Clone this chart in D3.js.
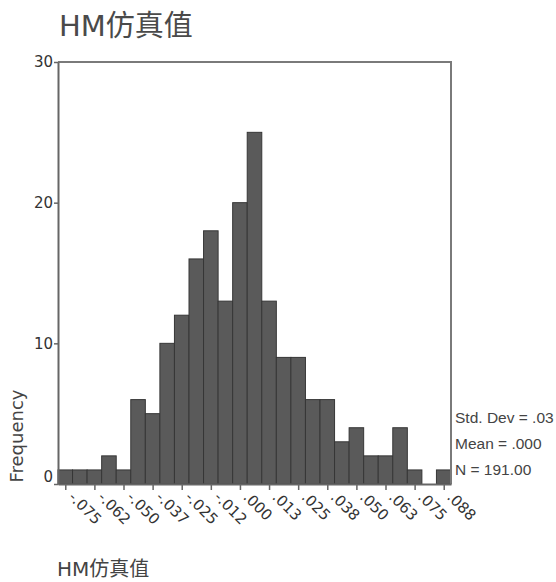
<!DOCTYPE html>
<html>
<head>
<meta charset="utf-8">
<script src="https://cdn.jsdelivr.net/npm/d3@7"></script>
<style>
  body { margin: 0; background: #fff; }
</style>
</head>
<body>
<div id="container"></div>
<script>
// bin centres (bin width .00625)
const binCenters = [-0.075, -0.06875, -0.0625, -0.05625, -0.05, -0.04375, -0.0375, -0.03125, -0.025,
  -0.01875, -0.0125, -0.00625, 0, 0.00625, 0.0125, 0.01875, 0.025, 0.03125, 0.0375, 0.04375,
  0.05, 0.05625, 0.0625, 0.06875, 0.075, 0.08125, 0.0875];
const counts = [1, 1, 1, 2, 1, 6, 5, 10, 12, 16, 18, 13, 20, 25, 13, 9, 9, 6, 6, 3, 4, 2, 2, 4, 1, 0, 1];
const xTicks = [-0.075, -0.0625, -0.05, -0.0375, -0.025, -0.0125, 0, 0.0125, 0.025, 0.0375, 0.05, 0.0625, 0.075, 0.0875];
const xTickLabels = ['-.075', '-.062', '-.050', '-.037', '-.025', '-.012', '.000', '.013', '.025', '.038', '.050', '.063', '.075', '.088'];
const yTicks = [0, 10, 20, 30];
const stats = ['Std. Dev = .03', 'Mean = .000', 'N = 191.00'];
const title = 'HM仿真值';

const options = { width: 556, height: 582, left: 58, right: 451, top: 62, bottom: 484 };
const binWidth = 0.00625;
const baseFont = '"DejaVu Sans", "Noto Sans CJK SC", sans-serif';

const svg = d3.select('#container').append('svg')
  .attr('width', options.width)
  .attr('height', options.height)
  .attr('font-family', baseFont);

const x = d3.scaleLinear()
  .domain([binCenters[0] - binWidth / 2, binCenters[binCenters.length - 1] + binWidth / 2])
  .range([options.left, options.right]);
const y = d3.scaleLinear().domain([0, 30]).range([options.bottom, options.top]);

// title
svg.append('text').attr('x', 59).attr('y', 36)
  .attr('font-size', 29).attr('fill', '#4a4a4a').text(title);

// bars
svg.selectAll('rect.bar').data(counts).enter().append('rect')
  .attr('class', 'bar')
  .attr('x', (d, i) => x(binCenters[i] - binWidth / 2))
  .attr('width', (d, i) => x(binCenters[i] + binWidth / 2) - x(binCenters[i] - binWidth / 2))
  .attr('y', d => y(d))
  .attr('height', d => y(0) - y(d))
  .attr('fill', '#5a5a5a')
  .attr('stroke', '#363636')
  .attr('stroke-width', 1);

// frame: top and right
svg.append('path')
  .attr('d', `M${options.left},${options.top}H${options.right}V${options.bottom}`)
  .attr('fill', 'none').attr('stroke', '#7a7a7a').attr('stroke-width', 2);

// y axis
const yAxis = svg.append('g').attr('transform', `translate(${options.left},0)`)
  .call(d3.axisLeft(y).tickValues(yTicks).tickSize(4).tickSizeOuter(0).tickFormat(d3.format('d')));
yAxis.attr('font-family', baseFont);
yAxis.select('.domain').attr('stroke', '#666').attr('stroke-width', 2);
yAxis.selectAll('.tick line').attr('stroke', '#666').attr('stroke-width', 1.5);
yAxis.selectAll('.tick text').attr('font-size', 15).attr('fill', '#333')
  .attr('x', -5).attr('dy', d => d === 0 ? '-0.15em' : '0.32em');

// x axis
const xAxis = svg.append('g').attr('transform', `translate(0,${options.bottom})`)
  .call(d3.axisBottom(x).tickValues(xTicks).tickSize(6).tickSizeOuter(0)
    .tickFormat((d, i) => xTickLabels[i]));
xAxis.attr('font-family', baseFont);
xAxis.select('.domain').attr('stroke', '#666').attr('stroke-width', 2);
xAxis.selectAll('.tick line').attr('stroke', '#666').attr('stroke-width', 1.5);
xAxis.selectAll('.tick text')
  .attr('font-size', 15).attr('fill', '#333')
  .attr('text-anchor', 'start')
  .attr('x', 0).attr('y', 0).attr('dy', 0)
  .attr('transform', 'translate(2,14) rotate(45)');

// y label
svg.append('text')
  .attr('transform', 'translate(23,436) rotate(-90)')
  .attr('text-anchor', 'middle')
  .attr('font-size', 18).attr('fill', '#444')
  .text('Frequency');

// stats
svg.selectAll('text.stat').data(stats).enter().append('text')
  .attr('class', 'stat')
  .attr('x', 455)
  .attr('y', (d, i) => 423 + i * 26)
  .attr('font-family', '"Liberation Sans", sans-serif')
  .attr('font-size', 15.5).attr('fill', '#444')
  .text(d => d);

// x label
svg.append('text').attr('x', 57).attr('y', 576)
  .attr('font-size', 20).attr('fill', '#444').text(title);
</script>
</body>
</html>
